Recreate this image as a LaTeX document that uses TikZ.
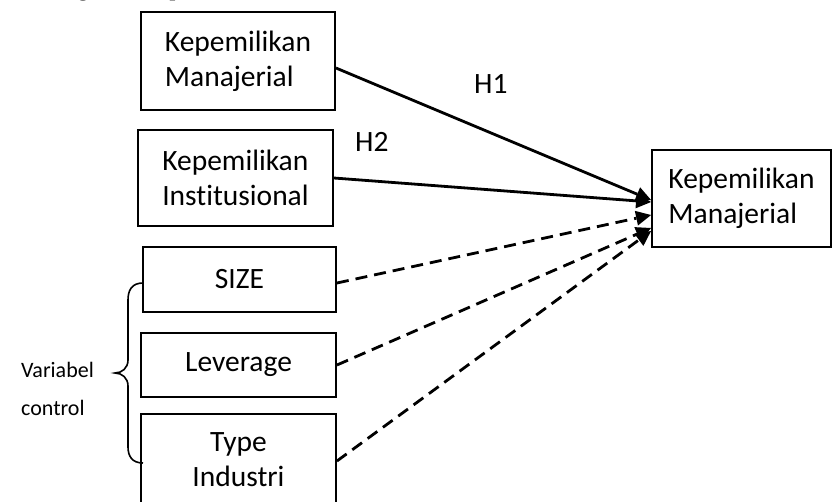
\documentclass[tikz,border=0pt]{standalone}
\usepackage{fontspec}
\setmainfont{Carlito}[Ligatures=NoCommon]
\newfontfamily\headfont{Liberation Serif}
\usetikzlibrary{arrows.meta}
\begin{document}
\begin{tikzpicture}[x=1pt,y=-1pt,
  boxtext/.style={font=\fontsize{29.5}{35}\selectfont},
  varbox/.style={boxtext, draw=black, line width=1.9pt, inner sep=0pt, align=left},
  ctrlbox/.style={varbox, align=center},
  link/.style={line width=2.8pt, -{Triangle[length=15pt,width=15pt,line width=0pt]}},
  ctrllink/.style={link, dash pattern=on 12pt off 7pt},
  hlabel/.style={boxtext, anchor=base west, inner sep=0pt}]
\useasboundingbox (0,0) rectangle (833,501);
\begin{scope}
  \clip (0,0) rectangle (833,501);
  % heading above the figure, only its descenders fall inside the frame
  \node[anchor=base west, inner sep=0pt,
        font=\headfont\bfseries\fontsize{20.5}{24}\selectfont] (title) at (22,-4) {Kerangka Konseptual};

  % independent variables
  \node[varbox, minimum width=194pt, minimum height=98pt] (manaj) at (238,61) {Kepemilikan\\Manajerial};
  \node[varbox, minimum width=195pt, minimum height=96pt] (inst) at (235.5,178) {Kepemilikan\\Institusional};

  % control variables
  \node[ctrlbox, minimum width=193pt, minimum height=65pt] (size) at (239.5,279.5) {SIZE};
  \node[ctrlbox, minimum width=195pt, minimum height=64pt] (lev) at (238.5,365) {Leverage};
  \node[ctrlbox, minimum width=195pt, minimum height=92pt] (ind) at (238.5,460) {Type\\Industri};

  % dependent variable
  \node[varbox, minimum width=179pt, minimum height=97pt] (dep) at (741.5,198.5) {Kepemilikan\\Manajerial};

  % hypotheses
  \draw[link] ([yshift=-7pt]manaj.east) -- ([yshift=-1.5pt]dep.west);
  \draw[link] (inst.east) -- ([yshift=-3.5pt]dep.west);
  \node[hlabel] (h1) at (474,93) {H1};
  \node[hlabel] (h2) at (355,151) {H2};

  % control paths
  \draw[ctrllink] ([yshift=-3.5pt]size.east) -- ([yshift=-16.5pt]dep.west);
  \draw[ctrllink] (lev.east) -- ([yshift=-29.5pt]dep.west);
  \draw[ctrllink] ([yshift=-1pt]ind.east) -- ([yshift=-32.5pt]dep.west);

  % brace grouping the control variables
  \coordinate (btop) at (143,283);
  \coordinate (bbot) at (143,463);
  \draw[line width=1.6pt] (btop) .. controls (132,283) and (128,290) .. (128,300)
    -- (128,360) .. controls (128,368) and (122,373) .. (115,373)
    .. controls (122,373) and (128,378) .. (128,386)
    -- (128,447) .. controls (128,456) and (132,463) .. (bbot);
  \node[anchor=base west, inner sep=0pt, align=left,
        font=\fontsize{22}{38}\selectfont] (ctrl) at (21,415) {Variabel\\control};
\end{scope}
\end{tikzpicture}
\end{document}
